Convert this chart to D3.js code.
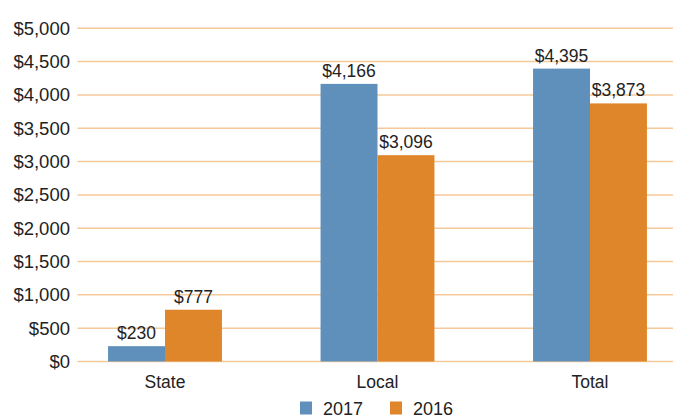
<!DOCTYPE html>
<html><head><meta charset="utf-8">
<script src="https://cdn.jsdelivr.net/npm/d3@7"></script>
<style>body{margin:0;background:#fff}svg{display:block}text{font-family:"Liberation Sans",Arial,sans-serif;fill:#222}</style>
</head><body><svg id="c" width="673" height="418"></svg>
<script>
const categories = ["State", "Local", "Total"];
const seriesNames = ["2017", "2016"];
const values2017 = [230, 4166, 4395];
const values2016 = [777, 3096, 3873];
const yTicks = [0, 500, 1000, 1500, 2000, 2500, 3000, 3500, 4000, 4500, 5000];
const colors = ["#5f90bb", "#e0862a"];

const svg = d3.select("#c");
const y = d3.scaleLinear().domain([0, 5000]).range([361.5, 28.3]);
const x = d3.scaleBand().domain(categories).range([58.75, 696.25]).paddingInner(0.464).paddingOuter(0.232);
const x1 = d3.scaleBand().domain(seriesNames).range([0, x.bandwidth()]);

// gridlines
svg.append("g").selectAll("line").data(yTicks).join("line")
  .attr("x1", 77.5).attr("x2", 673)
  .attr("y1", d => y(d)).attr("y2", d => y(d))
  .attr("stroke", "#f6c99b").attr("stroke-width", 1.5);

// y axis labels
const yAxis = d3.axisLeft(y).tickValues(yTicks).tickSize(0).tickPadding(0)
  .tickFormat(d => "$" + d3.format(",")(d));
const ya = svg.append("g").attr("transform", "translate(70,0)").call(yAxis);
ya.select(".domain").remove();
ya.selectAll("text").attr("font-size", 18.5).attr("fill", "#222").attr("font-family", '"Liberation Sans",Arial,sans-serif');

const seriesVals = [values2017, values2016];
const groups = svg.append("g").selectAll("g").data(categories).join("g")
  .attr("transform", d => `translate(${x(d)},0)`);
groups.selectAll("rect").data((d, i) => seriesNames.map((s, j) => ({s, v: seriesVals[j][i], j})))
  .join("rect")
  .attr("x", d => x1(d.s)).attr("width", x1.bandwidth())
  .attr("y", d => y(d.v)).attr("height", d => y(0) - y(d.v))
  .attr("fill", d => colors[d.j]);
groups.selectAll("text").data((d, i) => seriesNames.map((s, j) => ({s, v: seriesVals[j][i], j})))
  .join("text")
  .attr("x", d => x1(d.s) + x1.bandwidth() / 2)
  .attr("y", d => y(d.v) - 7)
  .attr("text-anchor", "middle").attr("font-size", 17.5)
  .text(d => "$" + d3.format(",")(d.v));

// x axis labels
const xAxis = d3.axisBottom(x).tickSize(0).tickPadding(0);
const xa = svg.append("g").attr("transform", "translate(0,375.5)").call(xAxis);
xa.select(".domain").remove();
xa.selectAll("text").attr("font-size", 17.5).attr("fill", "#222").attr("font-family", '"Liberation Sans",Arial,sans-serif');

// legend
const legendX = [300, 390];
const lg = svg.append("g").selectAll("g").data(seriesNames).join("g")
  .attr("transform", (d, i) => `translate(${legendX[i]},401.5)`);
lg.append("rect").attr("width", 12).attr("height", 13).attr("fill", (d, i) => colors[i]);
lg.append("text").attr("x", 23).attr("y", 13.5).attr("font-size", 18).text(d => d);
</script></body></html>
